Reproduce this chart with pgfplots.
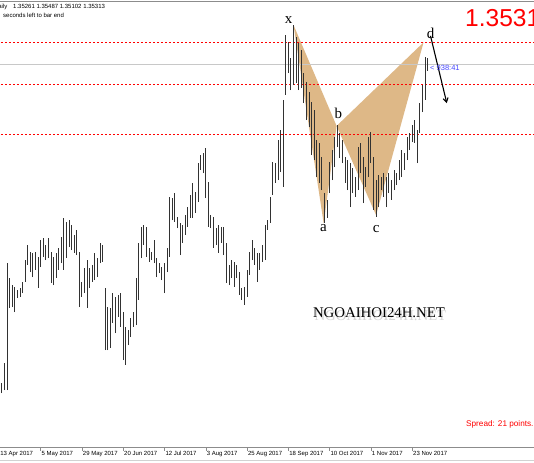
\documentclass[border=0pt]{standalone}
\usepackage{pgfplots}
\pgfplotsset{compat=1.18}
\usepackage{pgfplotstable}
\usetikzlibrary{arrows.meta}
\usepackage{fontspec}
\setmainfont{Liberation Sans}
\newfontfamily\serifff{Liberation Serif}
\definecolor{pattan}{RGB}{222,184,135}
\definecolor{barc}{RGB}{50,50,50}
\definecolor{lvl}{RGB}{255,0,0}
\definecolor{bidc}{RGB}{200,200,200}
\definecolor{bluet}{RGB}{70,70,255}
\definecolor{axc}{RGB}{140,140,140}

\pgfplotstableread{
i h l
1 1.2501 1.2468
2 1.2565 1.2478
3 1.2888 1.2478
4 1.2840 1.2743
5 1.2817 1.2746
6 1.2811 1.2730
7 1.2801 1.2775
8 1.2808 1.2779
9 1.2827 1.2791
10 1.2898 1.2827
11 1.2946 1.2882
12 1.2924 1.2859
13 1.2921 1.2843
14 1.2924 1.2866
15 1.2908 1.2808
16 1.2963 1.2875
17 1.2969 1.2908
18 1.2946 1.2898
19 1.2969 1.2904
20 1.2924 1.2824
21 1.2908 1.2817
22 1.2921 1.2840
23 1.2937 1.2866
24 1.2972 1.2888
25 1.3034 1.2866
26 1.3021 1.2904
27 1.3027 1.2940
28 1.3011 1.2930
29 1.2979 1.2921
30 1.2995 1.2914
31 1.2924 1.2746
32 1.2827 1.2779
33 1.2872 1.2791
34 1.2898 1.2743
35 1.2872 1.2808
36 1.2882 1.2827
37 1.2921 1.2833
38 1.2904 1.2843
39 1.2953 1.2888
40 1.2946 1.2892
41 1.2808 1.2607
42 1.2746 1.2607
43 1.2743 1.2614
44 1.2791 1.2695
45 1.2779 1.2662
46 1.2785 1.2714
47 1.2791 1.2682
48 1.2730 1.2575
49 1.2682 1.2559
50 1.2672 1.2623
51 1.2711 1.2649
52 1.2730 1.2682
53 1.2840 1.2688
54 1.2953 1.2769
55 1.3005 1.2904
56 1.3011 1.2946
57 1.3005 1.2908
58 1.2937 1.2892
59 1.2924 1.2898
60 1.2963 1.2888
61 1.2904 1.2843
62 1.2888 1.2856
63 1.2875 1.2833
64 1.2888 1.2791
65 1.2937 1.2859
66 1.3102 1.2908
67 1.3098 1.3027
68 1.3114 1.3021
69 1.3037 1.3001
70 1.3018 1.2914
71 1.3011 1.2953
72 1.3043 1.2979
73 1.3069 1.3005
74 1.3108 1.3034
75 1.3147 1.3034
76 1.3118 1.3050
77 1.3211 1.3085
78 1.3237 1.3189
79 1.3244 1.3179
80 1.3260 1.3098
81 1.3150 1.3005
82 1.3043 1.3001
83 1.3037 1.2937
84 1.3001 1.2946
85 1.3011 1.2921
86 1.3005 1.2953
87 1.3005 1.2914
88 1.2953 1.2824
89 1.2882 1.2817
90 1.2898 1.2840
91 1.2892 1.2811
92 1.2882 1.2840
93 1.2859 1.2785
94 1.2808 1.2769
95 1.2811 1.2753
96 1.2866 1.2779
97 1.2924 1.2850
98 1.2963 1.2898
99 1.2937 1.2882
100 1.2921 1.2827
101 1.2921 1.2866
102 1.2946 1.2892
103 1.3011 1.2898
104 1.3027 1.2995
105 1.3102 1.3018
106 1.3215 1.3108
107 1.3211 1.3147
108 1.3286 1.3156
109 1.3318 1.3182
110 1.3415 1.3134
111 1.3625 1.3431
112 1.3602 1.3502
113 1.3550 1.3447
114 1.3657 1.3463
115 1.3618 1.3470
116 1.3599 1.3447
117 1.3576 1.3454
118 1.3502 1.3405
119 1.3473 1.3350
120 1.3441 1.3328
121 1.3408 1.3237
122 1.3383 1.3221
123 1.3286 1.3166
124 1.3276 1.3147
125 1.3231 1.3124
126 1.3114 1.3018
127 1.3092 1.3034
128 1.3215 1.3114
129 1.3253 1.3156
130 1.3295 1.3198
131 1.3334 1.3263
132 1.3308 1.3227
133 1.3286 1.3211
134 1.3231 1.3147
135 1.3221 1.3124
136 1.3211 1.3069
137 1.3195 1.3114
138 1.3166 1.3102
139 1.3263 1.3124
140 1.3276 1.3179
141 1.3231 1.3082
142 1.3198 1.3134
143 1.3295 1.3166
144 1.3311 1.3211
145 1.3231 1.3060
146 1.3156 1.3037
147 1.3173 1.3069
148 1.3166 1.3124
149 1.3179 1.3102
150 1.3166 1.3069
151 1.3179 1.3114
152 1.3156 1.3092
153 1.3189 1.3124
154 1.3179 1.3140
155 1.3221 1.3156
156 1.3253 1.3166
157 1.3244 1.3189
158 1.3295 1.3221
159 1.3308 1.3253
160 1.3334 1.3279
161 1.3350 1.3276
162 1.3318 1.3211
163 1.3405 1.3308
164 1.3463 1.3376
165 1.3554 1.3415
166 1.3549 1.3510
}\barsdata

\begin{document}
\begin{tikzpicture}[x=1pt,y=1pt]
\useasboundingbox (0,0) rectangle (534,462);
\clip (0,0) rectangle (534,462);
\fill[white] (0,0) rectangle (534,462);
\begin{axis}[
  at={(-2pt,14.5pt)}, anchor=south west, scale only axis,
  width=562pt, height=446pt,
  xmin=-0.5426, xmax=217.287, ymin=1.22924, ymax=1.37330,
  axis line style={axc, line width=0.8pt},
  ytick=\empty,
  xtick={0,16,32,48,64,80,96,112,128,144,160},
  xticklabels={13 Apr 2017,5 May 2017,29 May 2017,20 Jun 2017,12 Jul 2017,3 Aug 2017,25 Aug 2017,18 Sep 2017,10 Oct 2017,1 Nov 2017,23 Nov 2017},
  xtick pos=lower, tick align=outside, major tick length=3pt,
  tick style={axc, line width=0.6pt},
  x tick label style={anchor=north west, font=\fontsize{6}{7}\selectfont, inner sep=0pt, xshift=0.8pt, yshift=-0.6pt},
]
% butterfly pattern
\addplot[fill=pattan, draw=none] coordinates {(114,1.3657) (125.7,1.3016) (130.7,1.3331)} -- cycle;
\addplot[fill=pattan, draw=none] coordinates {(130.7,1.3331) (146,1.3043) (164.4,1.3601)} -- cycle;
% levels
\addplot[lvl, line width=0.7pt, dash pattern=on 2pt off 2pt] coordinates {(-1,1.3601) (218,1.3601)};
\addplot[lvl, line width=0.7pt, dash pattern=on 2pt off 2pt] coordinates {(-1,1.3465) (218,1.3465)};
\addplot[lvl, line width=0.7pt, dash pattern=on 2pt off 2pt] coordinates {(-1,1.3303) (218,1.3303)};
\addplot[bidc, line width=1pt] coordinates {(-1,1.3531) (218,1.3531)};
% OHLC bars (high-low)
\addplot[barc, line width=1pt, mark=none, quiver={u=0, v=\thisrow{h}-\thisrow{l}}] table[x=i, y=l] {\barsdata};
% arrow
\addplot[black, line width=1.1pt, -{Straight Barb[length=4pt,width=5pt]}] coordinates {(167.1,1.3622) (173.4,1.3405)};
% labels
\node[font=\serifff\fontsize{15}{15}\selectfont] at (axis cs:112.1,1.3672) {x};
\node[font=\serifff\fontsize{15}{15}\selectfont] at (axis cs:125.6,1.3001) {a};
\node[font=\serifff\fontsize{15}{15}\selectfont] at (axis cs:131.4,1.3373) {b};
\node[font=\serifff\fontsize{15}{15}\selectfont] at (axis cs:146,1.2998) {c};
\node[font=\serifff\fontsize{15}{15}\selectfont] at (axis cs:167.1,1.3631) {d};
\end{axis}
% header texts
\node[anchor=base east, inner sep=0pt, font=\fontsize{6}{7}\selectfont] at (7.5,453.7) {aily};
\node[anchor=base west, inner sep=0pt, font=\fontsize{6}{7}\selectfont] at (13,453.7) {1.35261 1.35487 1.35102 1.35313};
\node[anchor=base west, inner sep=0pt, font=\fontsize{6}{7}\selectfont] at (3,444.7) {seconds left to bar end};
\node[anchor=base west, inner sep=0pt, text=red, font=\fontsize{24.5}{25}\selectfont] at (465,435.3) {1.3531};
\node[anchor=base west, inner sep=0pt, text=red, font=\fontsize{8.2}{9}\selectfont] at (466,35.3) {Spread: 21 points.};
\node[anchor=base west, inner sep=0pt, text=bluet, font=\fontsize{7.5}{8}\selectfont] at (430,391.3) {<\ 938:41};
% watermark
\node[text=gray!55, opacity=0.6, font=\serifff\fontsize{14.8}{15}\selectfont] at (380.5,146) {NGOAIHOI24H.NET};
\node[font=\serifff\fontsize{14.8}{15}\selectfont] at (379,149) {NGOAIHOI24H.NET};
\draw[gray!35, line width=1pt] (0,1.8) -- (534,1.8);
\end{tikzpicture}
\end{document}
